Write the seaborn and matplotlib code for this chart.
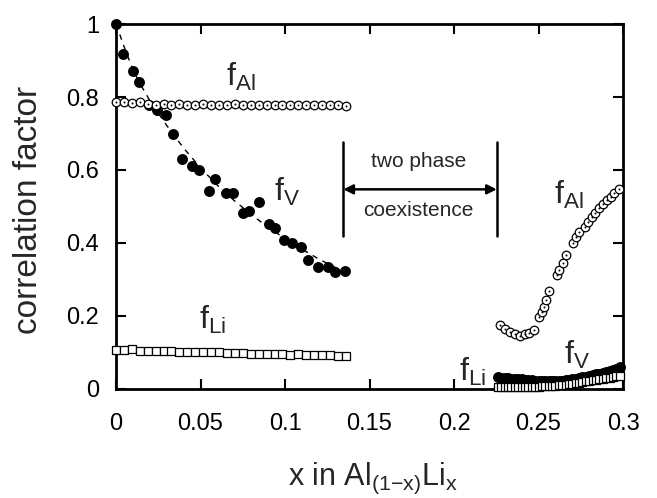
import matplotlib
matplotlib.use('Agg')
import matplotlib.pyplot as plt
import seaborn as sns

# ---------------------------------------------------------------------------
# Data
# ---------------------------------------------------------------------------

# f_V (filled circles), Al-rich side
x_v_left = [0.000, 0.004, 0.0102, 0.0138, 0.0197, 0.0240, 0.0296, 0.0335, 0.0392,
            0.0448, 0.0491, 0.0550, 0.0586, 0.0651, 0.0690, 0.0750, 0.0789, 0.0848,
            0.0907, 0.0941, 0.0996, 0.1040, 0.1095, 0.1138, 0.1197, 0.1256, 0.1296,
            0.1355]
fv_left = [1.000, 0.917, 0.872, 0.840, 0.778, 0.764, 0.751, 0.698, 0.631,
           0.611, 0.600, 0.543, 0.574, 0.538, 0.538, 0.483, 0.488, 0.513,
           0.452, 0.440, 0.408, 0.401, 0.390, 0.353, 0.333, 0.335, 0.321,
           0.324]

# dashed guide line through f_V
x_fit = [0.000, 0.005, 0.010, 0.015, 0.020, 0.030, 0.040, 0.050, 0.060, 0.070,
         0.080, 0.090, 0.100, 0.110, 0.120, 0.134]
fv_fit = [1.000, 0.935, 0.875, 0.830, 0.790, 0.722, 0.660, 0.606, 0.558, 0.516,
          0.478, 0.443, 0.412, 0.383, 0.356, 0.323]

# f_Al (open circles) and f_Li (open squares), Al-rich side
x_left = [0.0000, 0.0047, 0.0094, 0.0141, 0.0188, 0.0234, 0.0281, 0.0328, 0.0375,
          0.0422, 0.0469, 0.0516, 0.0563, 0.0609, 0.0656, 0.0703, 0.0750, 0.0797,
          0.0844, 0.0891, 0.0938, 0.0984, 0.1031, 0.1078, 0.1125, 0.1172, 0.1219,
          0.1266, 0.1313, 0.1360]
fal_left = [0.785, 0.786, 0.784, 0.785, 0.780, 0.779, 0.781, 0.779, 0.780, 0.778,
            0.779, 0.780, 0.778, 0.779, 0.778, 0.780, 0.779, 0.778, 0.778, 0.779,
            0.778, 0.777, 0.778, 0.777, 0.778, 0.777, 0.778, 0.779, 0.777, 0.776]
fli_left = [0.106, 0.107, 0.109, 0.104, 0.103, 0.104, 0.103, 0.104, 0.102, 0.101,
            0.102, 0.101, 0.100, 0.100, 0.099, 0.099, 0.098, 0.097, 0.097, 0.096,
            0.096, 0.095, 0.094, 0.095, 0.094, 0.093, 0.092, 0.093, 0.091, 0.091]

# f_Al (open circles), Li-rich side
x_al_right = [0.2270, 0.2300, 0.2330, 0.2360, 0.2390, 0.2420, 0.2445, 0.2473, 0.2503,
              0.2519, 0.2534, 0.2546, 0.2564, 0.2607, 0.2623, 0.2643, 0.2663, 0.2702,
              0.2722, 0.2741, 0.2775, 0.2795, 0.2815, 0.2834, 0.2860, 0.2884, 0.2904,
              0.2927, 0.2947, 0.2976]
fal_right = [0.175, 0.164, 0.155, 0.150, 0.146, 0.150, 0.154, 0.162, 0.198,
             0.212, 0.225, 0.243, 0.268, 0.312, 0.326, 0.344, 0.367, 0.399,
             0.416, 0.429, 0.445, 0.457, 0.470, 0.481, 0.495, 0.507, 0.518,
             0.525, 0.536, 0.547]

# f_V and f_Li, Li-rich side
x_right = [0.226, 0.228, 0.230, 0.232, 0.234, 0.236, 0.238, 0.240, 0.242, 0.244,
           0.246, 0.248, 0.250, 0.252, 0.254, 0.256, 0.258, 0.260, 0.262, 0.264,
           0.266, 0.268, 0.270, 0.272, 0.274, 0.276, 0.278, 0.280, 0.282, 0.284,
           0.286, 0.288, 0.290, 0.292, 0.294, 0.296, 0.298]
fv_right = [0.032, 0.031, 0.030, 0.029, 0.028, 0.027, 0.026, 0.026, 0.025, 0.024,
            0.024, 0.023, 0.023, 0.022, 0.022, 0.022, 0.022, 0.022, 0.023, 0.023,
            0.024, 0.025, 0.026, 0.028, 0.030, 0.032, 0.034, 0.036, 0.038, 0.040,
            0.042, 0.044, 0.046, 0.048, 0.051, 0.054, 0.061]
fli_right = [0.006, 0.006, 0.006, 0.006, 0.005, 0.005, 0.005, 0.005, 0.005, 0.005,
             0.006, 0.006, 0.006, 0.007, 0.007, 0.008, 0.008, 0.009, 0.010, 0.011,
             0.012, 0.013, 0.014, 0.016, 0.017, 0.019, 0.021, 0.022, 0.024, 0.025,
             0.027, 0.028, 0.030, 0.031, 0.033, 0.035, 0.036]

# two-phase coexistence region boundaries
X_PHASE_LO = 0.1345
X_PHASE_HI = 0.2253

X_TICKS = [0, 0.05, 0.1, 0.15, 0.2, 0.25, 0.3]
X_TICKLABELS = ['0', '0.05', '0.1', '0.15', '0.2', '0.25', '0.3']
Y_TICKS = [0, 0.2, 0.4, 0.6, 0.8, 1.0]
Y_TICKLABELS = ['0', '0.2', '0.4', '0.6', '0.8', '1']

# ---------------------------------------------------------------------------
# Style
# ---------------------------------------------------------------------------
sns.set_style('ticks')
plt.rcParams['font.family'] = ['Liberation Sans', 'DejaVu Sans']
plt.rcParams['mathtext.fontset'] = 'custom'
plt.rcParams['mathtext.rm'] = 'Liberation Sans'
plt.rcParams['mathtext.default'] = 'regular'

fig = plt.figure(figsize=(6.57, 4.98), dpi=100)
ax = fig.add_axes([0.1766, 0.2189, 0.7717, 0.7329])

open_kw = dict(facecolor='white', edgecolor='black', linewidth=0.9, clip_on=False)
dot_kw = dict(color='black', s=2, linewidth=0, clip_on=False)

# f_V guide line + filled circles
sns.lineplot(x=x_fit, y=fv_fit, color='black', lw=1.0, linestyle=(0, (4, 4)),
             errorbar=None, ax=ax, zorder=2)
sns.scatterplot(x=x_v_left, y=fv_left, color='black', s=62, linewidth=0,
                clip_on=False, ax=ax, zorder=3)
sns.scatterplot(x=x_right, y=fv_right, color='black', s=62, linewidth=0,
                clip_on=False, ax=ax, zorder=3)

# f_Li squares
sns.scatterplot(x=x_left, y=fli_left, marker='s', s=40, ax=ax, zorder=4, **open_kw)
sns.scatterplot(x=x_right, y=fli_right, marker='s', s=40, ax=ax, zorder=4, **open_kw)

# f_Al open circles with centre dot
sns.scatterplot(x=x_left, y=fal_left, marker='o', s=38, ax=ax, zorder=4, **open_kw)
sns.scatterplot(x=x_left, y=fal_left, ax=ax, zorder=5, **dot_kw)
sns.scatterplot(x=x_al_right, y=fal_right, marker='o', s=38, ax=ax, zorder=4, **open_kw)
sns.scatterplot(x=x_al_right, y=fal_right, ax=ax, zorder=5, **dot_kw)

# two phase coexistence marker
for xb in (X_PHASE_LO, X_PHASE_HI):
    ax.plot([xb, xb], [0.419, 0.677], color='black', lw=1.8)
ax.annotate('', xy=(X_PHASE_HI, 0.547), xytext=(X_PHASE_LO, 0.547),
            arrowprops=dict(arrowstyle='<|-|>', color='black', lw=1.8,
                            mutation_scale=14, shrinkA=0, shrinkB=0))
ax.text(0.179, 0.623, 'two phase', ha='center', va='center', fontsize=15)
ax.text(0.179, 0.490, 'coexistence', ha='center', va='center', fontsize=15)

# curve labels
labels = [
    (0.074, 0.855, r'f$_{Al}$'),
    (0.101, 0.540, r'f$_{V}$'),
    (0.0574, 0.190, r'f$_{Li}$'),
    (0.268, 0.532, r'f$_{Al}$'),
    (0.211, 0.047, r'f$_{Li}$'),
    (0.273, 0.093, r'f$_{V}$'),
]
for lx, ly, txt in labels:
    ax.text(lx, ly, txt, ha='center', va='center', fontsize=23)

# axes
ax.set_xlim(0, 0.3)
ax.set_ylim(0, 1)
ax.set_xticks(X_TICKS)
ax.set_xticklabels(X_TICKLABELS)
ax.set_yticks(Y_TICKS)
ax.set_yticklabels(Y_TICKLABELS)
ax.tick_params(direction='in', top=True, right=True, length=7, width=1.5,
               labelsize=17, color='black', labelcolor='black')
ax.tick_params(axis='x', pad=17)
ax.tick_params(axis='y', pad=12)
for sp in ax.spines.values():
    sp.set_linewidth(2)
    sp.set_color('black')
    sp.set_zorder(1)

ax.set_xlabel(r'x in Al$_{(1{-}x)}$Li$_{x}$', fontsize=22)
ax.xaxis.set_label_coords(0.507, -0.198)
ax.set_ylabel('correlation factor', fontsize=24)
ax.yaxis.set_label_coords(-0.142, 0.49)

fig.savefig('out.png', dpi=100)
